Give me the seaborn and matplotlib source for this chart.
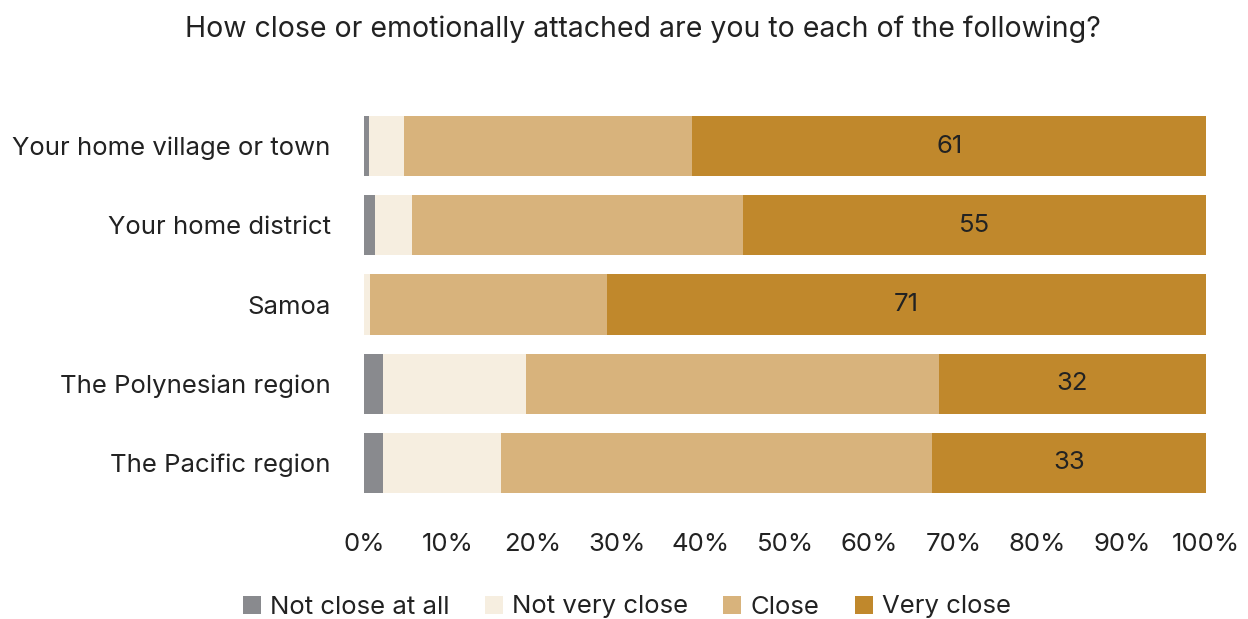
import matplotlib
matplotlib.use("Agg")
import matplotlib.pyplot as plt
import seaborn as sns
import pandas as pd
import numpy as np
from matplotlib.patches import Patch

sns.set_theme(style="white")
plt.rcParams['font.family'] = ['Inter', 'DejaVu Sans']

categories = ["Your home village or town", "Your home district", "Samoa",
              "The Polynesian region", "The Pacific region"]
series_names = ["Not close at all", "Not very close", "Close", "Very close"]
not_close_at_all = [0.6, 1.3, 0.0, 2.3, 2.3]
not_very_close = [4.2, 4.4, 0.7, 16.9, 14.0]
close = [34.2, 39.3, 28.2, 49.1, 51.1]
very_close = [61.0, 55.0, 71.1, 31.7, 32.6]
ticks = [0, 10, 20, 30, 40, 50, 60, 70, 80, 90, 100]
tick_labels = [f"{t}%" for t in ticks]
colors = ["#898a8e", "#f6eee0", "#d8b37c", "#c0882c"]

series = [not_close_at_all, not_very_close, close, very_close]
cum = np.cumsum(np.array(series), axis=0)

fig = plt.figure(figsize=(12.48, 6.19), dpi=100)
ax = fig.add_axes([364/1248, 1-502.5/619, (1206-364)/1248, (502.5-106.5)/619])

for i in range(len(series) - 1, -1, -1):
    df = pd.DataFrame({"cat": categories, "val": cum[i]})
    sns.barplot(data=df, x="val", y="cat", orient="h", color=colors[i],
                saturation=1, width=0.76, ax=ax, linewidth=0)

# labels for "Very close"
for j, cat in enumerate(categories):
    start = cum[2][j]
    ax.text(start + very_close[j] / 2, j, f"{very_close[j]:.0f}", ha="center", va="center",
            fontsize=18.5, color="#222222")

ax.set_xlim(0, 100)
ax.set_ylim(4.5, -0.5)
ax.set_xticks(ticks)
ax.set_xticklabels(tick_labels, fontsize=18.5, color="#222222")
ax.tick_params(axis="x", length=0, pad=22)
ax.tick_params(axis="y", length=0, pad=24, labelsize=18.5, labelcolor="#222222")
ax.set_xlabel("")
ax.set_ylabel("")
for s in ax.spines.values():
    s.set_visible(False)

fig.text(643/1248, 1-29/619, "How close or emotionally attached are you to each of the following?",
         ha="center", va="center", fontsize=20.5, color="#222222")

handles = [Patch(facecolor=c, edgecolor="none", label=n) for c, n in zip(colors, series_names)]
fig.legend(handles=handles, loc="center", bbox_to_anchor=(627/1248, 1-607/619), ncol=4,
           frameon=False, fontsize=18.5, handlelength=0.7, handleheight=0.7,
           handletextpad=0.38, columnspacing=1.35, labelcolor="#222222",
           borderpad=0, borderaxespad=0)

fig.savefig("out.png", dpi=100)
